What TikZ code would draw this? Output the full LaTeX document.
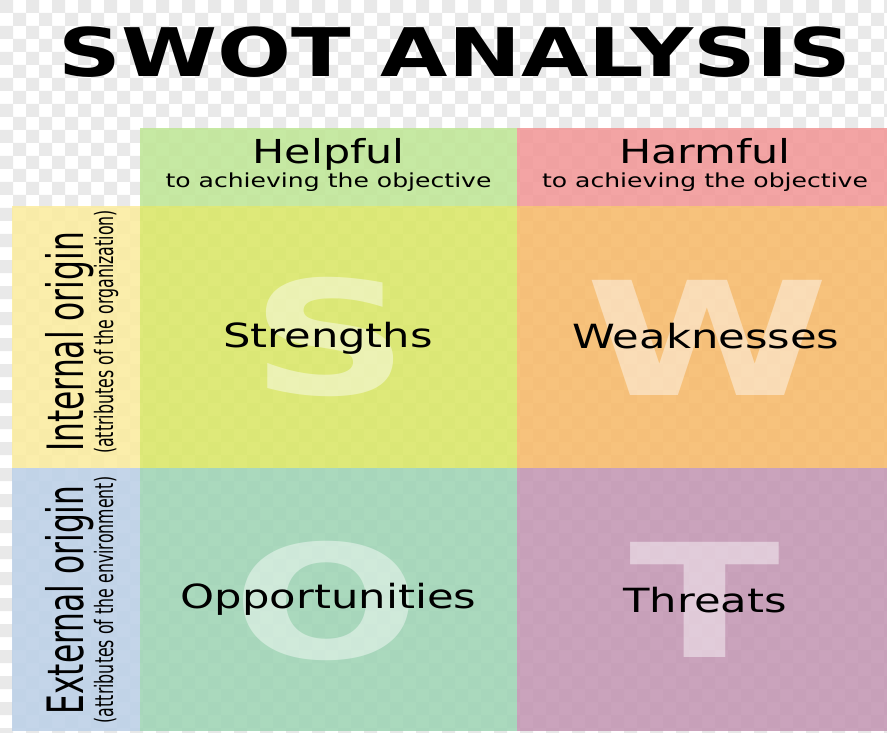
\documentclass[tikz,border=0pt]{standalone}
\usepackage{fontspec}
\usepackage{graphicx}
\setmainfont{DejaVu Sans}

% the labels are drawn wider (or, at the side, taller) than the font
\newcommand{\widetext}[1]{\scalebox{1.3}[1]{#1}}
\newcommand{\tallside}[1]{\scalebox{1}[1.6]{#1}}
\newcommand{\bigglyph}[1]{\scalebox{1.4}[1]{#1}}

\definecolor{checkgray}{RGB}{233,233,233}
\definecolor{helpgreen}{RGB}{191,230,151}
\definecolor{harmred}{RGB}{242,152,152}
\definecolor{internyellow}{RGB}{251,236,160}
\definecolor{externblue}{RGB}{188,208,231}
\definecolor{strengthgreen}{RGB}{218,231,103}
\definecolor{weakorange}{RGB}{247,186,106}
\definecolor{opporteal}{RGB}{159,212,181}
\definecolor{threatmauve}{RGB}{195,151,179}

\begin{document}
\begin{tikzpicture}[x=1pt, y=-1pt, every node/.style={inner sep=0pt, text=black},
    cell/.style={fill opacity=.88},
    title/.style={font=\bfseries\fontsize{67}{70}\selectfont, anchor=base},
    head/.style={font=\fontsize{33}{38}\selectfont, anchor=base},
    head sub/.style={font=\fontsize{19.3}{23}\selectfont, anchor=base},
    cell label/.style={font=\fontsize{33.3}{38}\selectfont, anchor=base},
    side/.style={font=\fontsize{31.3}{36}\selectfont, rotate=90, anchor=base},
    side sub/.style={font=\fontsize{15.8}{19}\selectfont, rotate=90, anchor=base},
    big letter/.style={font=\bfseries\fontsize{158}{160}\selectfont, text=white, text opacity=.45}]

    \useasboundingbox (0,0) rectangle (887,733);
    \clip (0,0) rectangle (887,733);

    % checkered background
    \fill[white] (0,0) rectangle (887,733);
    \foreach \i in {0,...,34}
        \foreach \j in {0,...,28}
            \fill[checkgray] (26*\i,26*\j) rectangle ++(13,13) (26*\i+13,26*\j+13) rectangle ++(13,13);

    % header row and side column
    \fill[cell, helpgreen] (140,128) rectangle (517,206);
    \fill[cell, harmred] (517,128) rectangle (887,206);
    \fill[cell, internyellow] (12,206) rectangle (140,468);
    \fill[cell, externblue] (12,468) rectangle (140,731);

    % the four quadrants
    \fill[cell, strengthgreen] (140,206) rectangle (517,468);
    \fill[cell, weakorange] (517,206) rectangle (887,468);
    \fill[cell, opporteal] (140,468) rectangle (517,731);
    \fill[cell, threatmauve] (517,468) rectangle (887,731);

    \node[big letter] (bigS) at (330,337) {\bigglyph{S}};
    \node[big letter] (bigW) at (707,338) {\bigglyph{W}};
    \node[big letter] (bigO) at (327,601) {\bigglyph{O}};
    \node[big letter] (bigT) at (705,600) {\bigglyph{T}};

    \node[title] (title) at (455,77) {\widetext{SWOT ANALYSIS}};

    \node[head] (helpful) at (328.5,164) {\widetext{Helpful}};
    \node[head sub] (helpfulsub) at (328.5,188) {\widetext{to achieving the objective}};
    \node[head] (harmful) at (705,164) {\widetext{Harmful}};
    \node[head sub] (harmfulsub) at (705,188) {\widetext{to achieving the objective}};

    \node[side] (internal) at (83,342) {\tallside{Internal origin}};
    \node[side sub] (internalsub) at (113,332) {\tallside{(attributes of the organization)}};
    \node[side] (external) at (83,600) {\tallside{External origin}};
    \node[side sub] (externalsub) at (113,600) {\tallside{(attributes of the environment)}};

    \node[cell label] (strengths) at (328,347) {\widetext{Strengths}};
    \node[cell label] (weaknesses) at (706,348) {\widetext{Weaknesses}};
    \node[cell label] (opportunities) at (328.5,608) {\widetext{Opportunities}};
    \node[cell label] (threats) at (705,612) {\widetext{Threats}};
\end{tikzpicture}
\end{document}
